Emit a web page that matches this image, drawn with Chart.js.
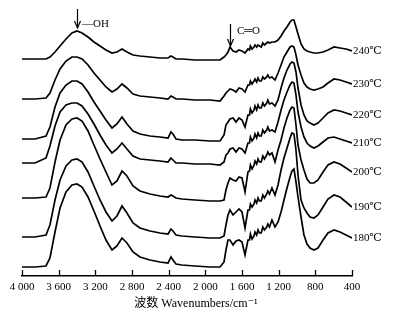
<!DOCTYPE html>
<html><head><meta charset="utf-8">
<script src="https://cdn.jsdelivr.net/npm/chart.js@4.4.0/dist/chart.umd.min.js"></script>
<style>html,body{margin:0;padding:0;background:#fff;}#wrap{width:395px;height:315px;}</style>
</head><body><div id="wrap"><canvas id="c" width="395" height="315"></canvas></div>
<script>
// Wavenumbers (cm^-1) at which the spectra were read
const wavenumbers = [4000,3858,3738,3695,3640,3585,3520,3455,3400,3345,3280,3215,3149,3084,3018,2964,2909,2855,2789,2713,2604,2495,2407,2375,2353,2320,2255,2113,1949,1840,1796,1775,1753,1731,1698,1665,1633,1600,1567,
  1535,1518,1508,1490,1469,1458,1440,1425,1410,1390,1373,1355,1330,1318,1300,1273,1240,1207,
  1174,1142,1109,1076,1055,1033,1011,989,956,924,891,858,815,771,716,662,596,531,465,400];

// Stacked absorbance (arbitrary units, offset per temperature)
const a240 = [217,217,217,219,224,230,237,243,245,243,239,234,230,226,223,224,227,224,221,220,219,218,218,220,219,217,217,216,216,216,219,221,224,229,225,224,226,225,223,
  227,226,230,227,229,231,229,231,230,229,233,231,233,234,233,234,234,236,
  240,245,249,254,256,256,249,242,232,227,225,224,223,223,224,226,229,228,227,225];
const a230 = [177,177,178,183,196,207,215,219,219,217,211,203,196,189,184,187,192,188,182,180,179,178,177,180,179,177,177,176,176,175,180,183,185,187,186,184,188,187,184,
  191,191,195,192,195,197,194,198,195,195,199,197,199,201,198,199,196,203,
  211,219,224,229,230,229,221,211,201,193,189,187,186,187,189,193,197,196,194,192];
const a220 = [137,137,140,149,169,183,191,195,195,192,184,174,165,156,148,152,159,152,145,142,140,139,138,144,142,137,136,136,135,135,141,151,154,157,158,154,158,156,149,
  161,161,167,163,166,170,166,171,168,168,173,170,173,176,172,173,170,176,
  188,198,206,212,214,213,204,188,171,161,155,153,151,153,158,163,166,165,163,161];
const a210 = [113,113,118,130,150,164,171,173,173,170,162,152,141,131,123,127,133,127,120,117,116,115,114,118,116,113,113,112,112,111,114,121,123,127,128,124,128,127,123,
  133,133,139,135,138,142,138,143,140,140,146,143,146,149,145,146,144,154,
  166,176,184,191,194,193,181,164,149,139,133,130,128,130,134,138,139,137,135,133];
const a200 = [78,78,79,88,114,136,151,157,158,155,145,131,117,104,91,95,105,100,90,85,82,80,79,81,80,78,77,76,75,75,76,86,93,98,96,95,99,98,84,
  104,105,111,107,111,115,112,117,114,114,120,117,121,124,121,123,114,126,
  136,148,158,166,169,168,151,131,116,106,97,93,93,96,104,111,114,112,108,104];
const a190 = [39,39,41,51,76,96,110,116,117,114,104,90,76,64,55,60,70,63,53,48,45,43,42,47,45,41,40,39,38,38,40,51,61,66,61,64,67,64,48,
  66,66,72,69,72,76,73,78,75,75,81,78,82,85,82,88,81,91,
  106,118,128,138,143,142,126,101,76,68,63,59,58,61,69,77,81,79,74,69];
const a180 = [9,9,10,18,44,68,84,91,92,89,79,65,50,36,26,30,38,33,24,19,16,14,13,19,16,12,11,10,9,9,14,26,36,36,31,35,36,34,21,
  36,36,42,37,40,44,41,46,43,43,49,46,49,52,49,56,49,54,
  64,76,88,99,105,107,94,79,59,41,32,28,26,28,36,43,46,44,41,38];

const seriesList = [a240,a230,a220,a210,a200,a190,a180];
const tempLabels = ['240℃','230℃','220℃','210℃','200℃','190℃','180℃'];
const xTicks = [4000,3600,3200,2800,2400,2000,1600,1200,800,400];
const xTitle = '波数 Wavenumbers/cm⁻¹';
// annotation arrows: wavenumber, arrow top / tip (absorbance units), text
const bandMarks = [
  {wn:3400, top:267, tip:248, text:'—OH', tx:3345, ty:252},
  {wn:1731, top:252, tip:230, text:'C═O', tx:1655, ty:245}
];

const SERIF = '"Liberation Serif","DejaVu Serif","Noto Sans CJK SC",serif';

function fmt(v){ return v>=1000 ? String(v).replace(/(\d)(\d{3})$/,'$1 $2') : String(v); }

const deco = {
  id:'deco',
  afterDraw(chart){
    const {ctx, scales:{x,y}, chartArea} = chart;
    ctx.save();
    ctx.strokeStyle='#000'; ctx.fillStyle='#000'; ctx.lineWidth=1.3;
    const yb = chartArea.bottom;
    xTicks.forEach(v=>{
      const px = Math.round(x.getPixelForValue(v))+0.5;
      ctx.beginPath(); ctx.moveTo(px,yb); ctx.lineTo(px,yb-6); ctx.stroke();
    });
    ctx.font = '11px '+SERIF; ctx.textBaseline='middle'; ctx.textAlign='left';
    chart.data.datasets.forEach((ds,i)=>{
      const last = ds.data[ds.data.length-1];
      ctx.fillText(tempLabels[i], x.getPixelForValue(last.x)+1, y.getPixelForValue(last.y));
    });
    ctx.lineWidth=1.2;
    bandMarks.forEach(m=>{
      const px = Math.round(x.getPixelForValue(m.wn))+0.5;
      const y0 = y.getPixelForValue(m.top), y1 = y.getPixelForValue(m.tip);
      ctx.beginPath(); ctx.moveTo(px,y0); ctx.lineTo(px,y1); ctx.stroke();
      ctx.beginPath(); ctx.moveTo(px-3,y1-7); ctx.lineTo(px,y1); ctx.lineTo(px+3,y1-7); ctx.stroke();
      ctx.fillText(m.text, x.getPixelForValue(m.tx), y.getPixelForValue(m.ty));
    });
    ctx.restore();
  }
};

new Chart(document.getElementById('c'), {
  type:'line',
  data:{ datasets: seriesList.map((s,i)=>({
    label: tempLabels[i],
    data: wavenumbers.map((w,j)=>({x:w, y:s[j]})),
    borderColor:'#000', borderWidth:1.7, pointRadius:0, tension:0, fill:false
  }))},
  options:{
    responsive:false, animation:false, devicePixelRatio:1,
    layout:{padding:{left:22,right:43,top:0,bottom:0}},
    plugins:{legend:{display:false}, tooltip:{enabled:false}},
    scales:{
      x:{
        type:'linear', reverse:true, min:400, max:4000,
        afterBuildTicks: s=>{ s.ticks = xTicks.map(v=>({value:v})); },
        grid:{display:false, drawTicks:false},
        border:{display:true, color:'#000', width:1.5},
        ticks:{color:'#000', font:{family:SERIF, size:11}, padding:5, maxRotation:0, autoSkip:false, callback:v=>fmt(v)},
        title:{display:true, text:'      '+xTitle, color:'#000', font:{family:SERIF, size:12}, padding:{top:0,bottom:4}},
        afterFit: s=>{ s.height = 39; }
      },
      y:{display:false, min:0, max:276}
    }
  },
  plugins:[deco]
});
</script></body></html>
